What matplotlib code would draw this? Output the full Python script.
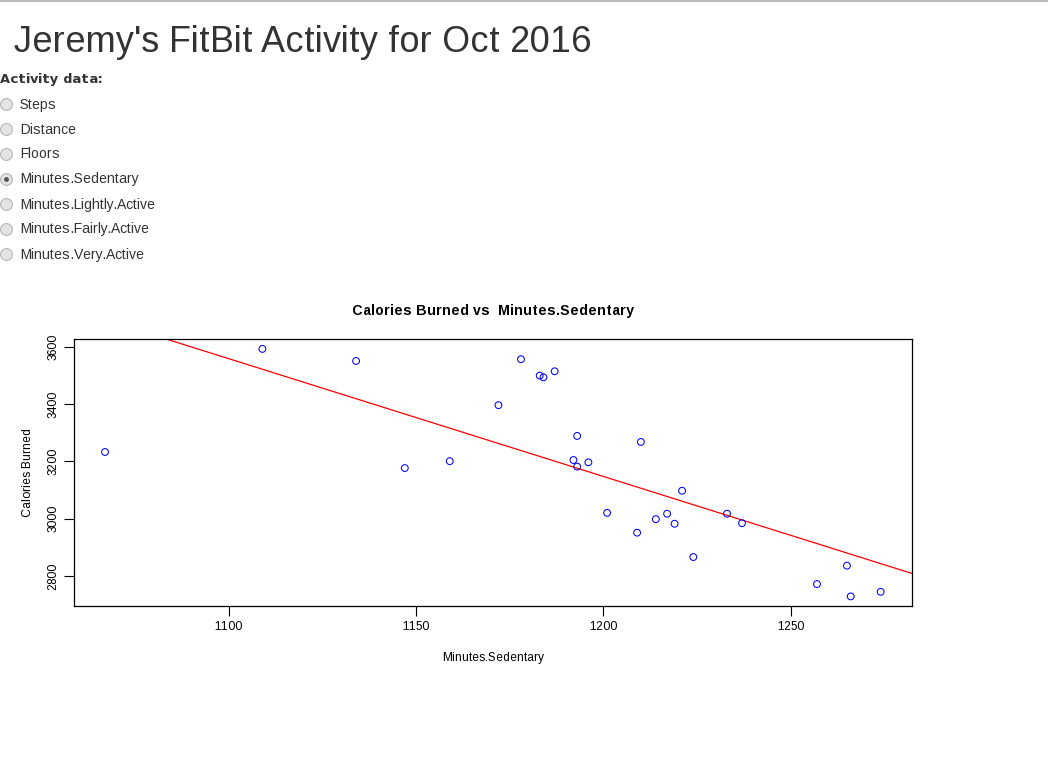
import numpy as np
import matplotlib
matplotlib.use("Agg")
import matplotlib.pyplot as plt

# Activity options shown as radio buttons
options = ["Steps", "Distance", "Floors", "Minutes.Sedentary",
           "Minutes.Lightly.Active", "Minutes.Fairly.Active", "Minutes.Very.Active"]
selected = "Minutes.Sedentary"

# Daily values
minutes_sedentary = [1067, 1109, 1134, 1147, 1159, 1172, 1178, 1183, 1184, 1187,
                     1193, 1192, 1193, 1196, 1210, 1201, 1221, 1209, 1214, 1217,
                     1219, 1224, 1233, 1237, 1265, 1257, 1266, 1274]
calories_burned = [3233, 3592, 3550, 3177, 3201, 3396, 3556, 3499, 3493, 3514,
                   3289, 3205, 3182, 3197, 3268, 3021, 3098, 2952, 2999, 3018,
                   2983, 2867, 3018, 2985, 2837, 2773, 2730, 2746]

x_ticks = [1100, 1150, 1200, 1250]
y_ticks = [2800, 3000, 3200, 3400, 3600]

plt.rcParams['font.family'] = ['Liberation Sans', 'DejaVu Sans']
plt.rcParams['text.hinting_factor'] = 1

W, H = 1048, 768
fig = plt.figure(figsize=(W / 100, H / 100), dpi=100)


def fx(px):
    return px / W


def fy(py):
    return 1 - py / H


# thin gray rule at the top of the page
fig.add_artist(plt.Line2D([0, 1], [fy(0.5), fy(0.5)], color='#bbbbbb', linewidth=1.5))

fig.text(fx(14), fy(42), "Jeremy's FitBit Activity for Oct 2016",
         fontsize=25.8, color='#333333', va='center', ha='left')
fig.text(fx(0), fy(80), "Activity data:", fontsize=9.2, fontweight='bold',
         family='DejaVu Sans', color='#333333', va='center', ha='left')

for i, opt in enumerate(options):
    py = 104 + 25 * i
    fig.add_artist(plt.Line2D([fx(6)], [fy(py)], marker='o', markersize=8.5,
                              markerfacecolor='#e4e4e4', markeredgecolor='#b5b5b5',
                              markeredgewidth=0.8, transform=fig.transFigure))
    if opt == selected:
        fig.add_artist(plt.Line2D([fx(6)], [fy(py)], marker='o', markersize=3.5,
                                  markerfacecolor='#555555', markeredgecolor='none',
                                  transform=fig.transFigure))
    fig.text(fx(20), fy(py + 0.5), opt, fontsize=10, color='#333333', va='center', ha='left')

ax = fig.add_axes([fx(74), fy(606.3), fx(911.7) - fx(74), fy(339) - fy(606.3)])

ax.scatter(minutes_sedentary, calories_burned, s=24, facecolors='none',
           edgecolors='blue', linewidths=0.75, zorder=3)

slope, intercept = np.polyfit(minutes_sedentary, calories_burned, 1)
xmin, xmax = min(minutes_sedentary), max(minutes_sedentary)
ymin, ymax = min(calories_burned), max(calories_burned)
xpad = 0.04 * (xmax - xmin)
ypad = 0.04 * (ymax - ymin)
ax.set_xlim(xmin - xpad, xmax + xpad)
ax.set_ylim(ymin - ypad, ymax + ypad)
xl = np.array(ax.get_xlim())
ax.plot(xl, intercept + slope * xl, color='red', linewidth=0.9, zorder=2)

ax.set_xticks(x_ticks)
ax.set_yticks(y_ticks)
ax.set_yticklabels([str(v) for v in y_ticks], rotation=90, va='center')
ax.tick_params(direction='out', length=7, labelsize=8.5, width=0.8)
for sp in ax.spines.values():
    sp.set_linewidth(0.9)
    sp.set_color('black')

ax.set_title("Calories Burned vs  Minutes.Sedentary", fontsize=9.8, fontweight='bold', pad=17)
ax.set_xlabel("Minutes.Sedentary", fontsize=8.5, labelpad=14)
ax.set_ylabel("Calories Burned", fontsize=8.5, labelpad=10)

fig.savefig("out.png", dpi=100)
